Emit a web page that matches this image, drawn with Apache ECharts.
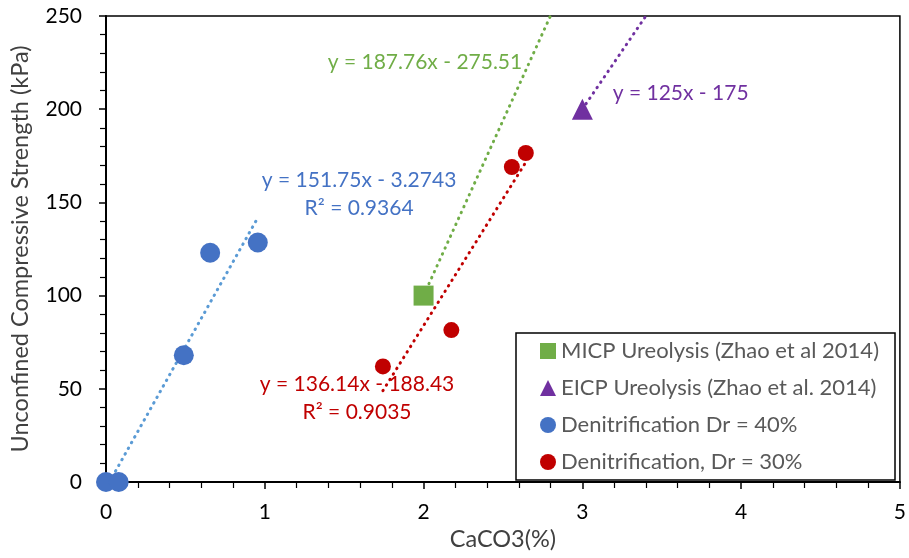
<!DOCTYPE html>
<html><head><meta charset="utf-8">
<script src="https://cdn.jsdelivr.net/npm/echarts@6/dist/echarts.min.js"></script>
<style>html,body{margin:0;padding:0;background:#fff}#c{width:909px;height:558px}</style>
</head><body><div id="c"></div>
<script>
// Data
const micpData = [[2.0, 100]];
const eicpData = [[3.0, 200]];
const dr40Data = [[0, 0], [0.08, 0], [0.49, 68], [0.656, 123], [0.956, 128.5]];
const dr30Data = [[1.744, 62], [2.175, 81.5], [2.556, 169], [2.644, 176.5]];
// Trendlines: slope, intercept, x-range (as printed on the chart)
const micpFit = {a: 187.76, b: -275.51, x0: 2.0, x1: 2.8};
const eicpFit = {a: 125, b: -175, x0: 3.0, x1: 3.4};
const dr40Fit = {a: 151.75, b: -3.2743, x0: 0, x1: 0.956};
const dr30Fit = {a: 136.14, b: -188.43, x0: 1.744, x1: 2.644};
const xTicks = [0, 1, 2, 3, 4, 5];
const yTicks = [0, 50, 100, 150, 200, 250];

const FONT = 'Lato';
function fitLine(f){ return [[f.x0, f.a*f.x0+f.b],[f.x1, f.a*f.x1+f.b]]; }
function trend(name, f, color, textColor, labelText, at){
  return {
    name: name, type: 'line', data: fitLine(f), symbol: 'none', silent: true,
    lineStyle: {color: color, width: 3, type: [0.5, 6], cap: 'round'},
    z: 1, clip: true,
    markPoint: {
      symbol: 'circle', symbolSize: 0, silent: true,
      data: [{coord: at, label: {show: true, position: 'inside', formatter: labelText,
        color: textColor, fontFamily: FONT, fontSize: 21, lineHeight: 28, align: 'center'}}]
    }
  };
}
const chart = echarts.init(document.getElementById('c'));
chart.setOption({
  animation: false,
  backgroundColor: '#fff',
  grid: {left: 105, right: 4, top: 16, bottom: 76, show: true, borderColor: '#000', borderWidth: 1.5},
  xAxis: {
    type: 'value', min: 0, max: 5, interval: 1,
    name: 'CaCO3(%)', nameLocation: 'middle', nameGap: 40,
    nameTextStyle: {fontFamily: FONT, fontSize: 23.5, color: '#404040'},
    axisLine: {show: true, onZero: false, lineStyle: {color: '#000', width: 2}},
    axisTick: {show: true, inside: false, length: 7, lineStyle: {color: '#000', width: 1.5}},
    minorTick: {show: true, splitNumber: 5, length: 6, lineStyle: {color: '#000', width: 1.2}},
    axisLabel: {fontFamily: FONT, fontSize: 21, color: '#000', margin: 20,
      formatter: v => xTicks.includes(v) ? String(v) : ''},
    splitLine: {show: false}
  },
  yAxis: {
    type: 'value', min: 0, max: 250, interval: 50,
    name: 'Unconfined Compressive Strength (kPa)', nameLocation: 'middle', nameGap: 74,
    nameTextStyle: {fontFamily: FONT, fontSize: 23.5, color: '#404040'},
    axisLine: {show: true, onZero: false, lineStyle: {color: '#000', width: 2}},
    axisTick: {show: true, inside: false, length: 7, lineStyle: {color: '#000', width: 1.5}},
    minorTick: {show: true, splitNumber: 5, length: 6, lineStyle: {color: '#000', width: 1.2}},
    axisLabel: {fontFamily: FONT, fontSize: 21, color: '#000', margin: 24,
      formatter: v => yTicks.includes(v) ? String(v) : ''},
    splitLine: {show: false}
  },
  legend: {
    orient: 'vertical', left: 516, top: 333,
    padding: [7, 16, 7, 24], itemGap: 15, itemWidth: 16, itemHeight: 16,
    backgroundColor: '#fff', borderColor: '#000', borderWidth: 1.5,
    textStyle: {fontFamily: FONT, fontSize: 22, color: '#595959'},
    data: [
      {name: 'MICP Ureolysis (Zhao et al 2014)', icon: 'rect'},
      {name: 'EICP Ureolysis (Zhao et al. 2014)', icon: 'triangle'},
      {name: 'Denitrification Dr = 40%', icon: 'circle'},
      {name: 'Denitrification, Dr = 30%', icon: 'circle'}
    ]
  },
  series: [
    trend('t1', dr40Fit, '#5B9BD5', '#4472C4', 'y = 151.75x - 3.2743\nR² = 0.9364', [1.594, 154.5]),
    trend('t2', micpFit, '#70AD47', '#70AD47', 'y = 187.76x - 275.51', [2.009, 225.3]),
    trend('t3', eicpFit, '#7030A0', '#7030A0', 'y = 125x - 175', [3.619, 208.7]),
    trend('t4', dr30Fit, '#C00000', '#C00000', 'y = 136.14x - 188.43\nR² = 0.9035', [1.581, 44.8]),
    {name: 'MICP Ureolysis (Zhao et al 2014)', type: 'scatter', data: micpData, symbol: 'rect', symbolSize: 20,
      itemStyle: {color: '#70AD47', opacity: 1}, z: 3},
    {name: 'EICP Ureolysis (Zhao et al. 2014)', type: 'scatter', data: eicpData, symbol: 'triangle', symbolSize: 21,
      itemStyle: {color: '#7030A0', opacity: 1}, z: 3},
    {name: 'Denitrification Dr = 40%', type: 'scatter', data: dr40Data, symbol: 'circle', symbolSize: 20,
      itemStyle: {color: '#4472C4', opacity: 1}, z: 3, clip: false},
    {name: 'Denitrification, Dr = 30%', type: 'scatter', data: dr30Data, symbol: 'circle', symbolSize: 16,
      itemStyle: {color: '#C00000', opacity: 1}, z: 3}
  ]
});
</script></body></html>
